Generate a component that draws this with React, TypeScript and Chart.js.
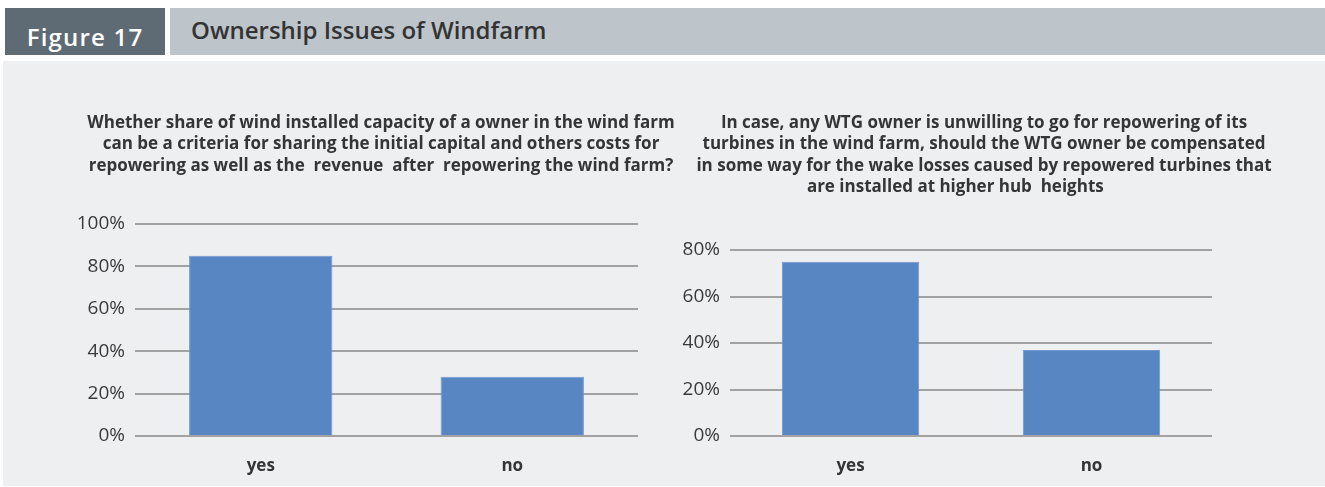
import React, { useEffect, useRef } from "react";
import { Chart, registerables } from "chart.js";

Chart.register(...registerables);

const categories = ["yes", "no"];
const leftValues = [0.85, 0.28];
const rightValues = [0.75, 0.37];
const leftTickValues = [0, 0.2, 0.4, 0.6, 0.8, 1.0];
const rightTickValues = [0, 0.2, 0.4, 0.6, 0.8];
const leftTitle = [
  "Whether share of wind installed capacity of a owner in the wind farm",
  "can be a criteria for sharing the initial capital and others costs for",
  "repowering as well as the  revenue  after  repowering the wind farm?",
];
const rightTitle = [
  "In case, any WTG owner is unwilling to go for repowering of its",
  "turbines in the wind farm, should the WTG owner be compensated",
  "in some way for the wake losses caused by repowered turbines that",
  "are installed at higher hub  heights             ",
];
const figureLabel = "Figure 17";
const figureTitle = "Ownership Issues of Windfarm";

const BAR = "#5886c3";
const GRID = "#a2a2a2";
const TEXT = "#353535";

type PanelProps = {
  values: number[];
  tickValues: number[];
  max: number;
  title: string[];
  left: number;
  width: number;
  yWidth: number;
  y2Width: number;
  titlePadBottom: number;
};

function BarPanel(p: PanelProps) {
  const ref = useRef<HTMLCanvasElement | null>(null);
  useEffect(() => {
    if (!ref.current) return;
    const chart = new Chart(ref.current, {
      type: "bar",
      data: {
        labels: categories,
        datasets: [
          {
            data: p.values,
            backgroundColor: BAR,
            borderColor: "#6f98cf",
            borderWidth: 1,
            barPercentage: 0.57,
            categoryPercentage: 1,
            yAxisID: "y",
          },
        ],
      },
      options: {
        animation: false,
        responsive: false,
        maintainAspectRatio: false,
        layout: { padding: 0 },
        plugins: {
          legend: { display: false },
          tooltip: { enabled: false },
          title: {
            display: true,
            text: p.title,
            color: TEXT,
            font: { family: "'Open Sans'", size: 17, weight: "bold", lineHeight: "21.5px" },
            padding: { top: 12, bottom: p.titlePadBottom },
          },
        },
        scales: {
          x: {
            grid: { display: false, drawTicks: false },
            border: { display: false },
            ticks: {
              color: TEXT,
              padding: 20,
              font: { family: "'Open Sans'", size: 17, weight: "bold" },
            },
            afterFit: (s: any) => {
              s.height = 50;
            },
          },
          y: {
            min: 0,
            max: p.max,
            grid: { color: GRID, lineWidth: 2, drawTicks: false },
            border: { display: false },
            afterBuildTicks: (s: any) => {
              s.ticks = p.tickValues.map((v) => ({ value: v }));
            },
            ticks: {
              color: "#3a3a3a",
              padding: 10,
              font: { family: "'Open Sans'", size: 19 },
              callback: (v: any) => Math.round(Number(v) * 100) + "%",
            },
            afterFit: (s: any) => {
              s.width = p.yWidth;
            },
          },
          y2: {
            position: "right",
            display: true,
            grid: { display: false, drawTicks: false },
            border: { display: false },
            ticks: { display: false },
            afterFit: (s: any) => {
              s.width = p.y2Width;
            },
          },
        },
      },
    });
    return () => chart.destroy();
  }, []);
  return (
    <canvas
      ref={ref}
      width={p.width}
      height={386}
      style={{ position: "absolute", left: p.left, top: 100, width: p.width, height: 386 }}
    />
  );
}

export default function App() {
  return (
    <div
      style={{
        position: "absolute",
        left: 0,
        top: 0,
        width: 1325,
        height: 487,
        background: "#ffffff",
        overflow: "hidden",
        fontFamily: "'Open Sans'",
      }}
    >
      <div
        style={{
          position: "absolute",
          left: 5,
          top: 8,
          width: 160,
          height: 47,
          background: "#5e6b74",
          color: "#ffffff",
          fontSize: 24,
          fontWeight: 600,
          letterSpacing: "1.2px",
          lineHeight: "47px",
          textAlign: "center",
          paddingTop: 5,
          boxSizing: "border-box",
        }}
      >
        {figureLabel}
      </div>
      <div
        style={{
          position: "absolute",
          left: 170,
          top: 8,
          width: 1155,
          height: 47,
          background: "#bdc4ca",
          color: "#333333",
          fontSize: 24,
          fontWeight: 600,
          lineHeight: "44px",
          paddingLeft: 21,
          boxSizing: "border-box",
        }}
      >
        {figureTitle}
      </div>
      <div
        style={{
          position: "absolute",
          left: 3,
          top: 61,
          width: 1322,
          height: 425,
          background: "#eeeff1",
        }}
      />
      <BarPanel
        values={leftValues}
        tickValues={leftTickValues}
        max={1.0}
        title={leftTitle}
        left={74}
        width={614}
        yWidth={61}
        y2Width={50}
        titlePadBottom={47.5}
      />
      <BarPanel
        values={rightValues}
        tickValues={rightTickValues}
        max={0.8}
        title={rightTitle}
        left={680}
        width={608}
        yWidth={50}
        y2Width={76}
        titlePadBottom={52}
      />
    </div>
  );
}
